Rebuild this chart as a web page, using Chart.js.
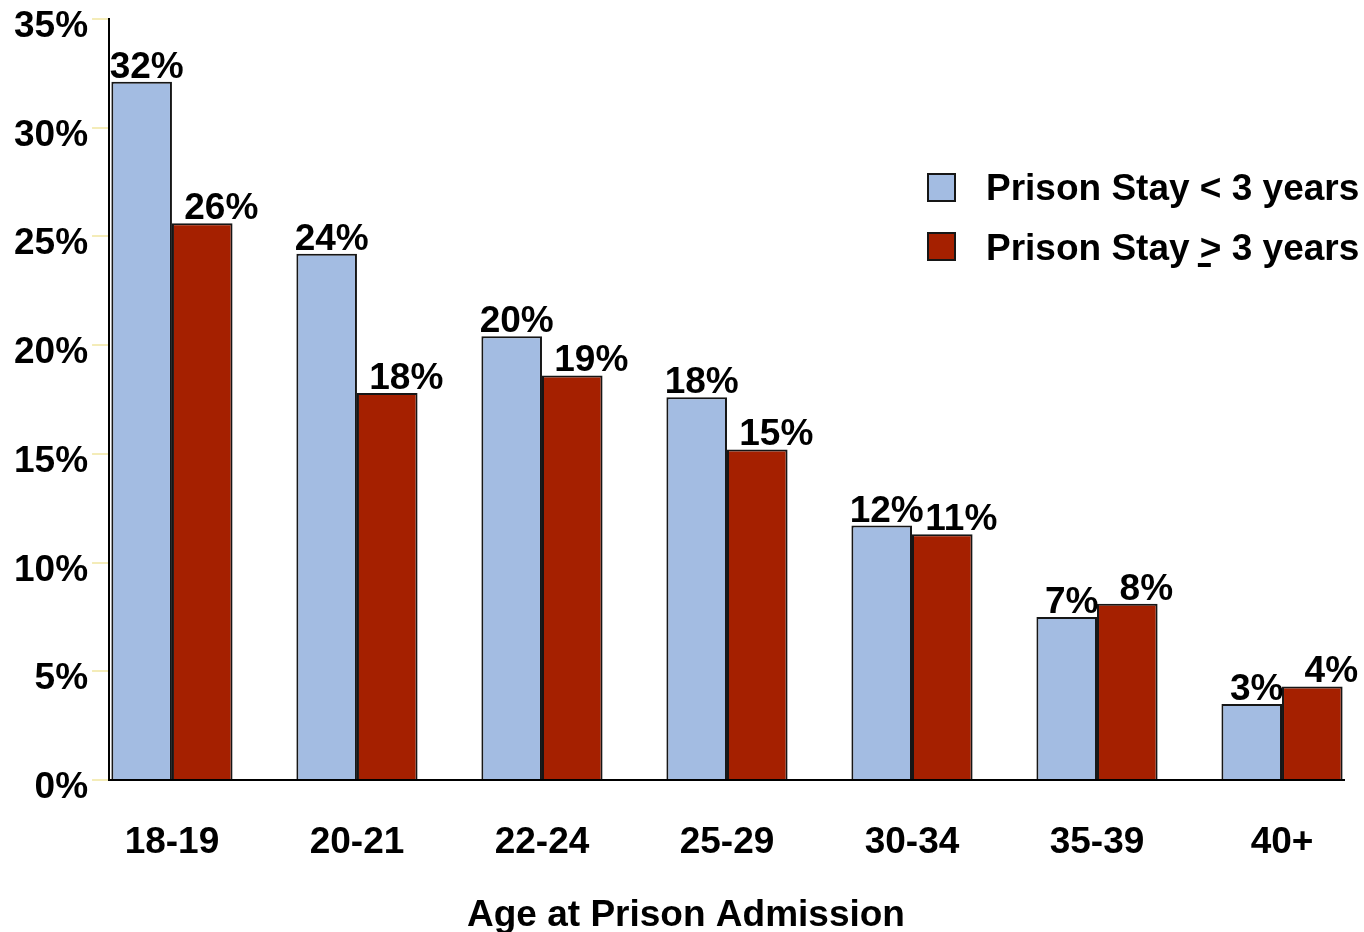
<!DOCTYPE html>
<html>
<head>
<meta charset="utf-8">
<title>Age at Prison Admission</title>
<script src="https://cdn.jsdelivr.net/npm/chart.js@4.4.1/dist/chart.umd.min.js"></script>
<style>
  html, body { margin: 0; padding: 0; background: #fff; }
  #wrap { width: 1364px; height: 932px; }
</style>
</head>
<body>
<div id="wrap"><canvas id="chart" width="1364" height="932"></canvas></div>
<script>
// values (percent of admissions)
const ageGroups = ['18-19', '20-21', '22-24', '25-29', '30-34', '35-39', '40+'];
const shortStay = [32.1, 24.2, 20.4, 17.6, 11.7, 7.5, 3.5];
const longStay = [25.6, 17.8, 18.6, 15.2, 11.3, 8.1, 4.3];
const shortLabels = ['32%', '24%', '20%', '18%', '12%', '7%', '3%'];
const longLabels = ['26%', '18%', '19%', '15%', '11%', '8%', '4%'];
const yTicks = [0, 5, 10, 15, 20, 25, 30, 35];
const xTitle = 'Age at Prison Admission';

const FAMILY = '"Liberation Sans", Arial, sans-serif';
const BOLD = 'bold 37px ' + FAMILY;
const BLUE = '#A3BCE2';
const RED = '#A52000';
const OUTLINE = '#161616';

// the value labels sit a little right of the bar centres in the original
const labelShift = [5, 19];
const valueLabels = [shortLabels, longLabels];

const barLabels = {
  id: 'barLabels',
  afterDatasetsDraw(chart) {
    const ctx = chart.ctx;
    ctx.save();
    ctx.font = BOLD;
    ctx.fillStyle = '#000';
    ctx.textAlign = 'center';
    ctx.textBaseline = 'alphabetic';
    chart.data.datasets.forEach((ds, d) => {
      chart.getDatasetMeta(d).data.forEach((bar, i) => {
        ctx.fillText(valueLabels[d][i], bar.x + labelShift[d], bar.y - 4);
      });
    });
    ctx.restore();
  }
};

// legend and axis title drawn by hand: the legend sits inside the plot,
// and the title is centred on the whole page rather than the plot area
const sideLegend = {
  id: 'sideLegend',
  afterDraw(chart) {
    const ctx = chart.ctx;
    const rows = [
      { color: BLUE, top: 174, base: 200, before: 'Prison Stay ', sign: '<', after: ' 3 years', underline: false },
      { color: RED, top: 233, base: 260, before: 'Prison Stay ', sign: '>', after: ' 3 years', underline: true }
    ];
    ctx.save();
    ctx.font = BOLD;
    ctx.textBaseline = 'alphabetic';
    ctx.textAlign = 'left';
    rows.forEach(r => {
      ctx.fillStyle = r.color;
      ctx.fillRect(928, r.top, 27, 27);
      ctx.strokeStyle = OUTLINE;
      ctx.lineWidth = 2;
      ctx.strokeRect(928, r.top, 27, 27);

      ctx.fillStyle = '#000';
      let x = 986;
      ctx.fillText(r.before, x, r.base);
      x += ctx.measureText(r.before).width;
      const w = ctx.measureText(r.sign).width;
      ctx.fillText(r.sign, x, r.base);
      if (r.underline) {
        ctx.fillRect(x - 2, r.base + 3, w * 0.6, 4);
      }
      x += w;
      ctx.fillText(r.after, x, r.base);
    });

    ctx.textAlign = 'center';
    ctx.fillText(xTitle, 686, 926);
    ctx.restore();
  }
};

const ctx = document.getElementById('chart').getContext('2d');
new Chart(ctx, {
  type: 'bar',
  data: {
    datasets: [
      {
        label: 'Prison Stay < 3 years',
        data: shortStay.map((v, i) => ({ x: i, y: v })),
        backgroundColor: BLUE,
        borderColor: OUTLINE,
        borderWidth: 2
      },
      {
        label: 'Prison Stay \u2265 3 years',
        data: longStay.map((v, i) => ({ x: i, y: v })),
        backgroundColor: RED,
        borderColor: OUTLINE,
        borderWidth: 2
      }
    ]
  },
  options: {
    responsive: false,
    animation: false,
    categoryPercentage: 0.655,
    barPercentage: 1.0,
    layout: { padding: { left: 10, right: 20, top: 0, bottom: 27 } },
    plugins: {
      legend: { display: false },
      tooltip: { enabled: false }
    },
    scales: {
      x: {
        type: 'linear',
        min: -0.34,
        max: 6.335,
        offset: false,
        afterBuildTicks: axis => {
          axis.ticks = ageGroups.map((_, i) => ({ value: i }));
        },
        grid: { display: true, drawOnChartArea: false, drawTicks: false, offset: false, color: 'rgba(0,0,0,0)' },
        border: { color: '#000', width: 2 },
        ticks: {
          autoSkip: false,
          maxRotation: 0,
          padding: 44,
          color: '#000',
          font: { family: FAMILY, size: 37, weight: 'bold', lineHeight: 1 },
          callback: v => ageGroups[v]
        }
      },
      y: {
        min: 0,
        max: 35,
        afterBuildTicks: axis => {
          axis.ticks = yTicks.map(v => ({ value: v }));
        },
        grid: { display: true, drawOnChartArea: false, drawTicks: true, tickLength: 17, color: '#F4ECB8', lineWidth: 2 },
        border: { color: '#000', width: 2 },
        ticks: {
          padding: 4,
          labelOffset: 8,
          color: '#000',
          font: { family: FAMILY, size: 37, weight: 'bold', lineHeight: 0.8 },
          callback: v => v + '%'
        }
      }
    }
  },
  plugins: [barLabels, sideLegend]
});
</script>
</body>
</html>
